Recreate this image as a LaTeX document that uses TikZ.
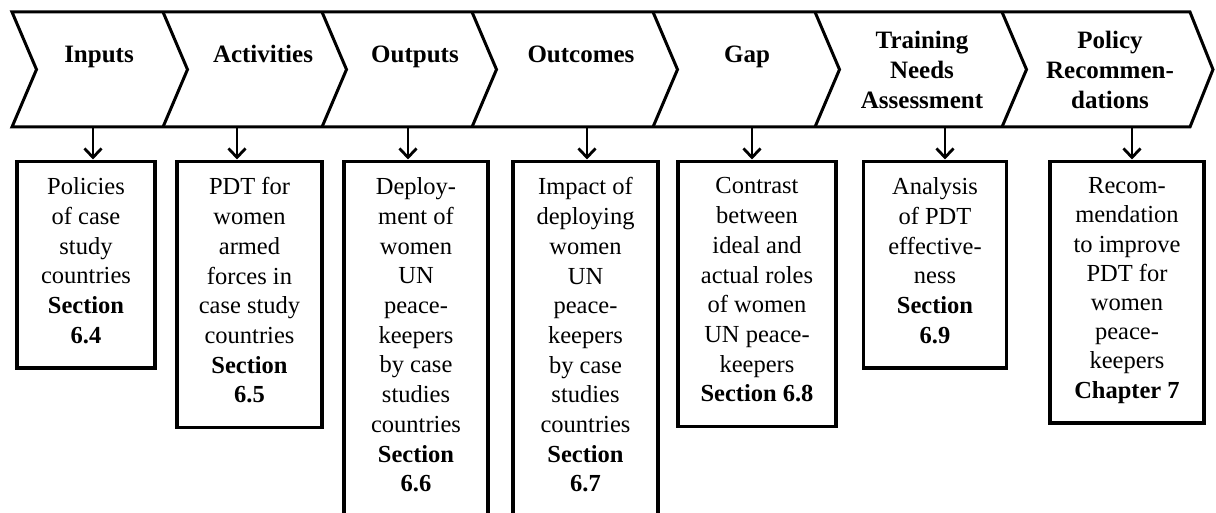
\documentclass[tikz,border=0pt]{standalone}
\usepackage{fontspec}
\setmainfont{Liberation Serif}
\usetikzlibrary{arrows.meta}
\begin{document}
\begin{tikzpicture}[x=1pt,y=-1pt,
  chev/.style={line width=3pt, line join=miter},
  head/.style={align=center, inner sep=0pt, font=\fontsize{25}{29.7}\selectfont\bfseries},
  onehead/.style={head, text height=17pt, text depth=5pt},
  box/.style={draw, line width=3.4pt, anchor=north, align=center, inner xsep=0pt, inner ysep=16pt,
    font=\fontsize{24.5}{29.7}\selectfont,
    execute at begin node=\strut, execute at end node=\strut},
  tightbox/.style={box, font=\fontsize{24.5}{29.2}\selectfont, execute at end node=\relax},
  link/.style={line width=1.6pt, -{Straight Barb[length=9pt,width=17pt,line width=2.8pt]}, shorten >=0.5pt}
]
\clip (0,0) rectangle (1216,513);
\fill[white] (0,0) rectangle (1216,513);

% chevron band
\draw[chev] (12,12) -- (1190,12) -- (1213,69.5) -- (1190,127) -- (12,127) -- (36.5,69.5) -- cycle;
\foreach \x in {163,322,472,653,815,1002}{
  \draw[chev] (\x,12) -- (\x+24.5,69.5) -- (\x,127);
}

% header labels
\node[onehead] (h1) at (99,57) {Inputs};
\node[onehead] (h2) at (263,57) {Activities};
\node[onehead] (h3) at (415,57) {Outputs};
\node[onehead] (h4) at (581,57) {Outcomes};
\node[onehead] (h5) at (747,57) {Gap};
\node[head] (h6) at (922,70) {Training\\Needs\\Assessment};
\node[head] (h7) at (1110,70) {Policy\\Recommen-\\dations};

% boxes
\node[box, minimum width=138pt] (b1) at (86,160) {Policies\\of case\\study\\countries\\\textbf{Section}\\\textbf{6.4}};
\node[box, minimum width=145pt] (b2) at (249.5,160) {PDT for\\women\\armed\\forces in\\case study\\countries\\\textbf{Section}\\\textbf{6.5}};
\node[box, minimum width=144pt] (b3) at (416,160) {Deploy-\\ment of\\women\\UN\\peace-\\keepers\\by case\\studies\\countries\\\textbf{Section}\\\textbf{6.6}};
\node[box, minimum width=145pt] (b4) at (585.5,160) {Impact of\\deploying\\women\\UN\\peace-\\keepers\\by case\\studies\\countries\\\textbf{Section}\\\textbf{6.7}};
\node[box, minimum width=158pt] (b5) at (757,160) {Contrast\\between\\ideal and\\actual roles\\of women\\UN peace-\\keepers\\\textbf{Section 6.8}};
\node[box, minimum width=143pt] (b6) at (935,160) {Analysis\\of PDT\\effective-\\ness\\\textbf{Section}\\\textbf{6.9}};
\node[tightbox, minimum width=154pt] (b7) at (1127,160) {Recom-\\mendation\\to improve\\PDT for\\women\\peace-\\keepers\\\textbf{Chapter 7}};

% arrow origins on the band's lower edge
\coordinate (a1) at (93,127);
\coordinate (a2) at (237,127);
\coordinate (a3) at (408,127);
\coordinate (a4) at (587,127);
\coordinate (a5) at (752,127);
\coordinate (a6) at (945,127);
\coordinate (a7) at (1132,127);
\foreach \i in {1,...,7}{
  \draw[link] (a\i) -- (a\i |- b\i.north);
}
\end{tikzpicture}
\end{document}
